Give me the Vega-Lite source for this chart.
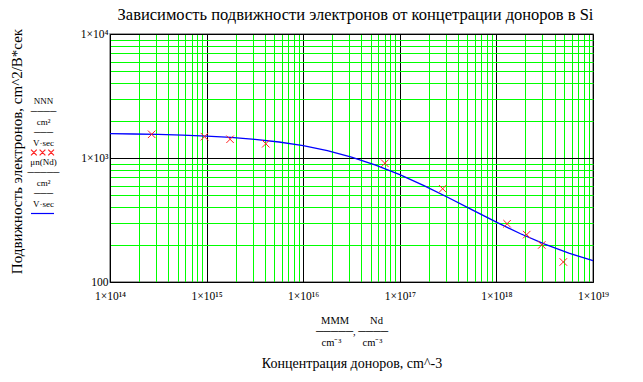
{
  "$schema": "https://vega.github.io/schema/vega-lite/v6.json",
  "width": 483,
  "height": 248,
  "autosize": {"type": "none"},
  "padding": {"left": 110, "top": 34, "right": 50, "bottom": 100},
  "background": "white",
  "config": {
    "font": "Liberation Serif",
    "view": {"stroke": "#808080", "strokeWidth": 1.5}
  },
  "title": {
    "text": "Зависимость подвижности электронов от концетрации доноров в Si",
    "font": "Liberation Serif",
    "fontSize": 16.5,
    "fontWeight": "normal",
    "color": "black",
    "anchor": "middle",
    "offset": 5,
    "dx": 4
  },
  "datasets": {
    "curve": [
      {"N": 1e14, "mu": 1570.6, "series": "μn(Nd)"},
      {"N": 1.778e14, "mu": 1561.7, "series": "μn(Nd)"},
      {"N": 3.162e14, "mu": 1548.7, "series": "μn(Nd)"},
      {"N": 5.623e14, "mu": 1530.0, "series": "μn(Nd)"},
      {"N": 1e15, "mu": 1503.5, "series": "μn(Nd)"},
      {"N": 1.778e15, "mu": 1466.1, "series": "μn(Nd)"},
      {"N": 3.162e15, "mu": 1414.6, "series": "μn(Nd)"},
      {"N": 5.623e15, "mu": 1345.7, "series": "μn(Nd)"},
      {"N": 1e16, "mu": 1256.5, "series": "μn(Nd)"},
      {"N": 1.778e16, "mu": 1146.3, "series": "μn(Nd)"},
      {"N": 3.162e16, "mu": 1017.7, "series": "μn(Nd)"},
      {"N": 5.623e16, "mu": 877.1, "series": "μn(Nd)"},
      {"N": 1e17, "mu": 734.3, "series": "μn(Nd)"},
      {"N": 1.778e17, "mu": 599.3, "series": "μn(Nd)"},
      {"N": 3.162e17, "mu": 480.4, "series": "μn(Nd)"},
      {"N": 5.623e17, "mu": 381.6, "series": "μn(Nd)"},
      {"N": 1e18, "mu": 303.8, "series": "μn(Nd)"},
      {"N": 1.778e18, "mu": 245.0, "series": "μn(Nd)"},
      {"N": 3.162e18, "mu": 201.7, "series": "μn(Nd)"},
      {"N": 5.623e18, "mu": 170.7, "series": "μn(Nd)"},
      {"N": 1e19, "mu": 148.8, "series": "μn(Nd)"}
    ],
    "measured": [
      {"N": 2.7e14, "mu": 1553, "series": "NNN"},
      {"N": 9.5e14, "mu": 1486, "series": "NNN"},
      {"N": 1.75e15, "mu": 1416, "series": "NNN"},
      {"N": 4.1e15, "mu": 1303, "series": "NNN"},
      {"N": 7.0e16, "mu": 906, "series": "NNN"},
      {"N": 2.78e17, "mu": 565, "series": "NNN"},
      {"N": 1.29e18, "mu": 295, "series": "NNN"},
      {"N": 2.06e18, "mu": 241, "series": "NNN"},
      {"N": 2.95e18, "mu": 199, "series": "NNN"},
      {"N": 4.93e18, "mu": 145, "series": "NNN"}
    ]
  },
  "resolve": {"axis": {"x": "independent"}},
  "layer": [
    {
      "data": {"name": "curve"},
      "mark": {"type": "line", "strokeWidth": 1.3},
      "encoding": {
        "x": {
          "field": "N",
          "type": "quantitative",
          "scale": {"type": "log", "domain": [1e14, 1e19], "nice": false},
          "axis": {
            "orient": "bottom",
            "values": [1e14, 2e14, 3e14, 4e14, 5e14, 6e14, 7e14, 8e14, 9e14,
                       1e15, 2e15, 3e15, 4e15, 5e15, 6e15, 7e15, 8e15, 9e15,
                       1e16, 2e16, 3e16, 4e16, 5e16, 6e16, 7e16, 8e16, 9e16,
                       1e17, 2e17, 3e17, 4e17, 5e17, 6e17, 7e17, 8e17, 9e17,
                       1e18, 2e18, 3e18, 4e18, 5e18, 6e18, 7e18, 8e18, 9e18, 1e19],
            "grid": true,
            "gridColor": {"condition": {"test": "indexof([1e14,1e15,1e16,1e17,1e18,1e19], datum.value) >= 0", "value": "#000000"}, "value": "#00ff00"},
            "gridOpacity": 1,
            "gridWidth": 1,
            "ticks": false,
            "domainColor": "#000000",
            "domainWidth": 1,
            "labelExpr": "datum.value == 1e14 ? '1×10¹⁴' : datum.value == 1e15 ? '1×10¹⁵' : datum.value == 1e16 ? '1×10¹⁶' : datum.value == 1e17 ? '1×10¹⁷' : datum.value == 1e18 ? '1×10¹⁸' : datum.value == 1e19 ? '1×10¹⁹' : ''",
            "labelFont": "Liberation Serif",
            "labelFontSize": 11.5,
            "labelColor": "#000000",
            "labelPadding": 8,
            "labelOverlap": false,
            "labelFlush": false,
            "labelBound": false,
            "title": "Концентрация доноров, cm^-3",
            "titleFont": "Liberation Serif",
            "titleFontSize": 14,
            "titleFontWeight": "normal",
            "titleColor": "#000000",
            "titleBaseline": "top",
            "titleY": 74
          }
        },
        "y": {
          "field": "mu",
          "type": "quantitative",
          "scale": {"type": "log", "domain": [100, 10000], "nice": false},
          "axis": {
            "values": [100, 200, 300, 400, 500, 600, 700, 800, 900,
                       1000, 2000, 3000, 4000, 5000, 6000, 7000, 8000, 9000, 10000],
            "grid": true,
            "gridColor": {"condition": {"test": "indexof([100,1000,10000], datum.value) >= 0", "value": "#000000"}, "value": "#00ff00"},
            "gridOpacity": 1,
            "gridWidth": 1,
            "ticks": false,
            "domainColor": "#000000",
            "domainWidth": 1,
            "labelExpr": "datum.value == 100 ? '100' : datum.value == 1000 ? '1×10³' : datum.value == 10000 ? '1×10⁴' : ''",
            "labelFont": "Liberation Serif",
            "labelFontSize": 11.5,
            "labelColor": "#000000",
            "labelPadding": 2,
            "labelOverlap": false,
            "labelFlush": false,
            "labelBound": false,
            "title": "Подвижность электронов, cm^2/В*сек",
            "titleFont": "Liberation Serif",
            "titleFontSize": 15,
            "titleFontWeight": "normal",
            "titleColor": "#000000",
            "titleAngle": -90,
            "titleAlign": "center",
            "titleBaseline": "middle",
            "titleX": -94,
            "titleY": 117
          }
        },
        "color": {
          "field": "series",
          "type": "nominal",
          "scale": {"domain": ["NNN", "μn(Nd)"], "range": ["#ff2020", "#0000ff"]},
          "legend": {
            "orient": "none",
            "legendX": -80,
            "legendY": 106,
            "title": null,
            "symbolSize": 529,
            "labelFont": "Liberation Serif",
            "labelFontSize": 9,
            "labelColor": "#000000",
            "labelAlign": "center",
            "labelBaseline": "top",
            "labelOffset": -11.5,
            "rowPadding": -1,
            "labelExpr": "datum.label == 'NNN' ? ['NNN', '────', 'cm²', '───', 'V·sec'] : ['μn(Nd)', '─────', 'cm²', '───', 'V·sec']",
            "encode": {
              "symbols": {
                "update": {
                  "shape": {"signal": "datum.value === 'NNN' ? 'M-1,-0.25L-0.5,0.25M-1,0.25L-0.5,-0.25M-0.25,-0.25L0.25,0.25M-0.25,0.25L0.25,-0.25M0.5,-0.25L1,0.25M0.5,0.25L1,-0.25' : 'stroke'"},
                  "size": {"value": 529},
                  "strokeWidth": {"value": 1.2},
                  "fill": {"value": "transparent"},
                  "stroke": {"signal": "datum.value === 'NNN' ? '#ff2020' : '#0000ff'"}
                }
              },
              "labels": {
                "update": {"dy": {"value": -56}, "lineHeight": {"value": 10.5}}
              }
            }
          }
        }
      }
    },
    {
      "data": {"name": "measured"},
      "mark": {"type": "point", "filled": false, "shape": "M-1,-1L1,1M1,-1L-1,1", "size": 56, "strokeWidth": 1, "opacity": 1},
      "encoding": {
        "x": {
          "field": "N",
          "type": "quantitative",
          "scale": {"type": "log", "domain": [1e14, 1e19], "nice": false},
          "axis": {
            "orient": "bottom",
            "labels": false,
            "ticks": false,
            "domain": false,
            "grid": false,
            "title": ["MMM\u00a0\u00a0\u00a0\u00a0\u00a0\u00a0\u00a0\u00a0Nd", "─────,\u00a0────", "cm⁻³\u00a0\u00a0\u00a0\u00a0\u00a0\u00a0\u00a0\u00a0cm⁻³"],
            "titleFont": "Liberation Serif",
            "titleFontSize": 10.5,
            "titleLineHeight": 11,
            "titleFontWeight": "normal",
            "titleColor": "#000000",
            "titleBaseline": "top",
            "titleY": 33
          }
        },
        "y": {
          "field": "mu",
          "type": "quantitative",
          "scale": {"type": "log", "domain": [100, 10000], "nice": false}
        },
        "color": {"field": "series", "type": "nominal"}
      }
    }
  ]
}
